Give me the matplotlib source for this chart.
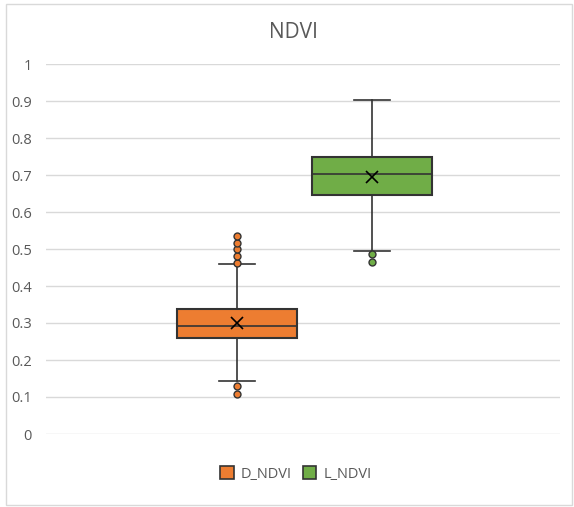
import matplotlib.pyplot as plt
from matplotlib.patches import Rectangle, Patch

# box statistics
labels = ["D_NDVI", "L_NDVI"]
q1 = [0.259, 0.646]
med = [0.292, 0.703]
q3 = [0.338, 0.749]
means = [0.301, 0.694]
whislo = [0.143, 0.495]
whishi = [0.459, 0.903]
fliers = [[0.463, 0.482, 0.499, 0.515, 0.536, 0.131, 0.108],
          [0.486, 0.464]]
colors = ["#ED7D31", "#70AD47"]

plt.rcParams['font.family'] = ['Open Sans', 'DejaVu Sans']
fig = plt.figure(figsize=(5.74, 5.07), dpi=100)
W, H = 574, 507
ax = fig.add_axes([46 / W, 1 - 434 / H, (560 - 46) / W, (434 - 64) / H])

stats = []
for i in range(2):
    stats.append(dict(label=labels[i], q1=q1[i], med=med[i], q3=q3[i], mean=means[i],
                      whislo=whislo[i], whishi=whishi[i], fliers=fliers[i]))

edge = "#333333"
bp = ax.bxp(stats, positions=[1, 2], widths=0.896, patch_artist=True, showmeans=True,
            meanprops=dict(marker='x', markeredgecolor='black', markersize=9, markeredgewidth=1.2),
            medianprops=dict(color=edge, linewidth=1.2),
            whiskerprops=dict(color=edge, linewidth=1.2),
            capprops=dict(color=edge, linewidth=1.2),
            boxprops=dict(edgecolor=edge, linewidth=1.5),
            capwidths=0.27)
for patch, c in zip(bp['boxes'], colors):
    patch.set_facecolor(c)
for fl, c in zip(bp['fliers'], colors):
    fl.set(marker='o', markerfacecolor=c, markeredgecolor=edge, markersize=5, markeredgewidth=1)

ax.set_xlim(-0.415, 3.393)
ax.set_ylim(0, 1)
ax.set_yticks([i / 10 for i in range(11)])
ax.set_yticklabels(["0", "0.1", "0.2", "0.3", "0.4", "0.5", "0.6", "0.7", "0.8", "0.9", "1"])
ax.set_xticks([])
ax.grid(axis='y', color='#D9D9D9', linewidth=1)
ax.set_axisbelow(True)
for s in ax.spines.values():
    s.set_visible(False)
ax.tick_params(axis='y', length=0, labelsize=10.5, labelcolor='#595959', pad=10)

fig.text(293.5 / W, 1 - 33 / H, "NDVI", ha='center', va='center', fontsize=15, color='#595959')

handles = [Patch(facecolor=c, edgecolor=edge, linewidth=1.2) for c in colors]
fig.legend(handles, labels, loc='center', bbox_to_anchor=(296 / W, 1 - 474 / H), ncol=2,
           frameon=False, fontsize=10.5, labelcolor='#595959', handlelength=0.9,
           handleheight=0.9, handletextpad=0.48, columnspacing=0.8)

fig.patches.append(Rectangle((6 / W, 1 - 505 / H), 566 / W, 501 / H, transform=fig.transFigure,
                             fill=False, edgecolor='#D9D9D9', linewidth=1))
fig.savefig("out.png", dpi=100)
